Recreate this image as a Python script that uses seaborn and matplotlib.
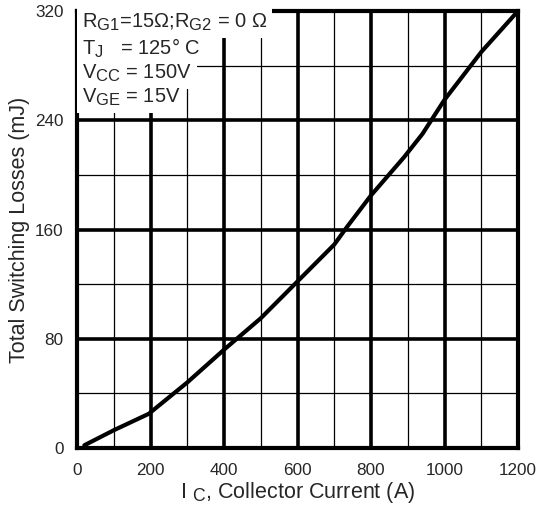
import matplotlib
matplotlib.use("Agg")
import matplotlib.pyplot as plt
import matplotlib._mathtext as _mt
import seaborn as sns
import pandas as pd

# Data
ic_amps = [20, 100, 195, 300, 400, 500, 600, 700, 735, 800, 890, 940, 1000, 1100, 1200]
loss_mj = [2, 13, 25, 48, 72, 95, 122, 149, 162, 185, 213, 230, 255, 290, 320]
x_ticks = [0, 200, 400, 600, 800, 1000, 1200]
y_ticks = [0, 80, 160, 240, 320]
legend_lines = [
    r"R$_{\mathrm{G1}}$=15$\Omega$;R$_{\mathrm{G2}}$ = 0 $\Omega$",
    r"T$_{\mathrm{J}}$   = 125° C",
    r"V$_{\mathrm{CC}}$ = 150V",
    r"V$_{\mathrm{GE}}$ = 15V",
]

# larger subscripts, as in the reference
_mt.SHRINK_FACTOR = 0.82

sns.set_style("white")
plt.rcParams["font.family"] = ["Liberation Sans", "DejaVu Sans"]
plt.rcParams["mathtext.fontset"] = "custom"
plt.rcParams["mathtext.rm"] = "Liberation Sans"
plt.rcParams["mathtext.it"] = "Liberation Sans:italic"
plt.rcParams["mathtext.bf"] = "Liberation Sans:bold"

fig = plt.figure(figsize=(5.4, 5.14), dpi=100)
ax = fig.add_axes([0.1426, 0.1284, 0.8167, 0.8502])

df = pd.DataFrame({"ic": ic_amps, "e": loss_mj})
sns.lineplot(data=df, x="ic", y="e", ax=ax, color="black", lw=3, zorder=5)

ax.set_xlim(0, 1200)
ax.set_ylim(0, 320)
ax.set_xticks(x_ticks)
ax.set_yticks(y_ticks)
ax.set_xticks(range(0, 1201, 100), minor=True)
ax.set_yticks(range(0, 321, 40), minor=True)
ax.grid(which="major", color="black", lw=2.6, zorder=1)
ax.grid(which="minor", color="black", lw=0.9, zorder=1)
ax.set_axisbelow(True)
for s in ax.spines.values():
    s.set_linewidth(3)
    s.set_color("black")
    s.set_visible(True)
ax.tick_params(which="both", length=0, labelsize=12.3)
ax.tick_params(axis="x", pad=11)
ax.tick_params(axis="y", pad=9.5)

ax.set_xlabel(r"I $_{\mathrm{C}}$, Collector Current (A)", fontsize=15.5, labelpad=1)
ax.set_ylabel("Total Switching Losses (mJ)", fontsize=15.5, labelpad=4)

ys = [0.973, 0.915, 0.858, 0.802]
for txt, yy in zip(legend_lines, ys):
    ax.text(0.012, yy, txt, transform=ax.transAxes, fontsize=14.5, va="center", ha="left",
            zorder=6, bbox=dict(facecolor="white", edgecolor="none", pad=3.5))

fig.savefig("out.png", dpi=100)
